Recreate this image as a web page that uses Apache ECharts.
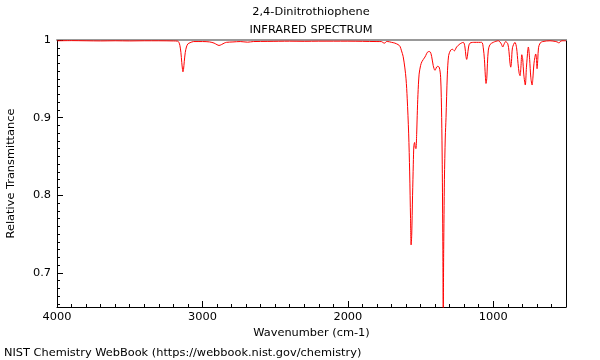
<!DOCTYPE html>
<html>
<head>
<meta charset="utf-8">
<script src="https://cdn.jsdelivr.net/npm/echarts@6/dist/echarts.min.js"></script>
<style>html,body{margin:0;padding:0;background:#fff}#c{width:600px;height:360px}</style>
</head>
<body>
<div id="c"></div>
<script>
var titleLines = ['2,4-Dinitrothiophene', 'INFRARED SPECTRUM'];
var xLabelTicks = [4000, 3000, 2000, 1000];
var yLabelTicks = [0.7, 0.8, 0.9, 1];
var wavenumbers = [4000,3900,3800,3700,3600,3500,3400,3300,3200,3170,3162,3155,3148,3142,3137,3134,3130,3125,3118,3110,3100,3085,3060,3000,2950,2920,2900,2886,2870,2850,2835,2790,2740,2689,2650,2550,2400,2300,2200,2100,2000,1900,1800,1770,1757,1746,1735,1725,1700,1677,1654,1642,1631,1620,1608,1600,1592,1582,1575,1569,1565,1561,1555,1550,1546,1541,1537,1532,1527,1523,1518,1510,1500,1491,1470,1447,1436,1424,1413,1401,1385,1372,1362,1355,1351,1347,1344,1341,1336,1330,1325,1316,1307,1293,1280,1268,1252,1229,1206,1195,1188,1183,1178,1170,1160,1126,1080,1069,1061,1055,1050,1045,1040,1034,1023,1000,965,945,935,925,915,900,892,885,880,875,868,851,840,830,822,816,810,804,798,790,780,772,762,759,750,742,733,728,720,708,703,699,694,689,678,660,610,570,555,548,540,527,500];
var transmittance = [0.999,0.9992,0.999,0.9988,0.999,0.9988,0.999,0.999,0.9988,0.9985,0.997,0.993,0.984,0.971,0.962,0.959,0.962,0.972,0.984,0.991,0.995,0.9965,0.998,0.998,0.9975,0.996,0.994,0.993,0.994,0.996,0.997,0.9975,0.998,0.9972,0.998,0.9982,0.9985,0.9983,0.9985,0.9985,0.9985,0.9983,0.998,0.998,0.9965,0.996,0.998,0.998,0.997,0.996,0.994,0.992,0.986,0.979,0.964,0.950,0.925,0.880,0.830,0.770,0.736,0.748,0.800,0.840,0.864,0.868,0.862,0.860,0.878,0.903,0.930,0.956,0.967,0.972,0.978,0.985,0.985,0.979,0.967,0.961,0.966,0.965,0.952,0.900,0.840,0.740,0.650,0.730,0.820,0.875,0.900,0.955,0.980,0.987,0.988,0.986,0.991,0.995,0.997,0.991,0.979,0.975,0.979,0.991,0.996,0.997,0.997,0.990,0.975,0.955,0.944,0.950,0.970,0.987,0.994,0.997,0.999,0.995,0.991,0.995,0.998,0.995,0.985,0.970,0.965,0.972,0.990,0.997,0.990,0.970,0.957,0.954,0.965,0.981,0.976,0.955,0.942,0.965,0.988,0.991,0.975,0.952,0.942,0.950,0.970,0.982,0.975,0.963,0.975,0.990,0.996,0.998,0.999,0.998,0.997,0.996,0.998,0.999,0.999];

var X_MIN = 500, X_MAX = 4000, Y_MIN = 0.656, Y_MAX = 1.0;
var xMinor = []; for (var v = 600; v < 4000; v += 100) xMinor.push(v);
var yMinor = []; for (var k = 66; k < 100; k++) yMinor.push(k / 100);

var pts = wavenumbers.map(function (w, i) { return [w, transmittance[i]]; });
var font = 'DejaVu Sans';
var FS = 11.35;
var chart = echarts.init(document.getElementById('c'), null, { renderer: 'canvas' });
var baseX = { type: 'value', min: X_MIN, max: X_MAX, inverse: true, splitLine: { show: false } };
var baseY = { type: 'value', min: Y_MIN, max: Y_MAX, splitLine: { show: false } };
chart.setOption({
  animation: false,
  backgroundColor: '#fff',
  textStyle: { fontFamily: font },
  grid: { left: 57, right: 34, top: 40, bottom: 53, containLabel: false, outerBoundsMode: 'none' },
  graphic: [
    { type: 'text', x: 311, y: 12, style: { text: titleLines[0], font: FS + 'px "DejaVu Sans"', fill: '#000', textAlign: 'center', textVerticalAlign: 'middle', verticalAlign: 'middle' } },
    { type: 'text', x: 311, y: 30, style: { text: titleLines[1], font: FS + 'px "DejaVu Sans"', fill: '#000', textAlign: 'center', textVerticalAlign: 'middle', verticalAlign: 'middle' } },
    { type: 'text', x: 4, y: 353, style: { text: 'NIST Chemistry WebBook (https://webbook.nist.gov/chemistry)', font: FS + 'px "DejaVu Sans"', fill: '#000', textVerticalAlign: 'middle', verticalAlign: 'middle' } }
  ],
  xAxis: [
    Object.assign({}, baseX, { position: 'bottom', axisLine: { lineStyle: { color: '#000', width: 1 } },
      axisTick: { inside: true, length: 3, customValues: xMinor, lineStyle: { color: '#000' } }, axisLabel: { show: false } }),
    Object.assign({}, baseX, { position: 'bottom', axisLine: { show: false },
      axisTick: { inside: true, length: 6, customValues: xLabelTicks, lineStyle: { color: '#000' } },
      axisLabel: { customValues: xLabelTicks, color: '#000', fontSize: FS, margin: 5, fontFamily: font, formatter: function (v) { return String(v); } },
      name: 'Wavenumber (cm-1)', nameLocation: 'middle', nameGap: 19, nameTextStyle: { color: '#000', fontSize: FS, fontFamily: font } }),
    Object.assign({}, baseX, { position: 'top', axisLine: { lineStyle: { color: '#999', width: 2 } }, axisTick: { show: false }, axisLabel: { show: false } })
  ],
  yAxis: [
    Object.assign({}, baseY, { position: 'left', axisLine: { lineStyle: { color: '#000', width: 1 } },
      axisTick: { inside: true, length: 3, customValues: yMinor, lineStyle: { color: '#000' } }, axisLabel: { show: false } }),
    Object.assign({}, baseY, { position: 'left', axisLine: { show: false },
      axisTick: { inside: true, length: 6, customValues: yLabelTicks, lineStyle: { color: '#000' } },
      axisLabel: { customValues: yLabelTicks, color: '#000', fontSize: FS, margin: 6, fontFamily: font, formatter: function (v) { return String(+v.toFixed(2)); } },
      name: 'Relative Transmittance', nameLocation: 'middle', nameGap: 40, nameTextStyle: { color: '#000', fontSize: FS, fontFamily: font } }),
    Object.assign({}, baseY, { position: 'right', axisLine: { lineStyle: { color: '#000', width: 1 } }, axisTick: { show: false }, axisLabel: { show: false } })
  ],
  series: [{
    type: 'line', xAxisIndex: 1, yAxisIndex: 1, data: pts, showSymbol: false, symbol: 'none',
    smooth: 0.3, clip: true, lineStyle: { color: '#ff0000', width: 1 }
  }]
});
</script>
</body>
</html>
